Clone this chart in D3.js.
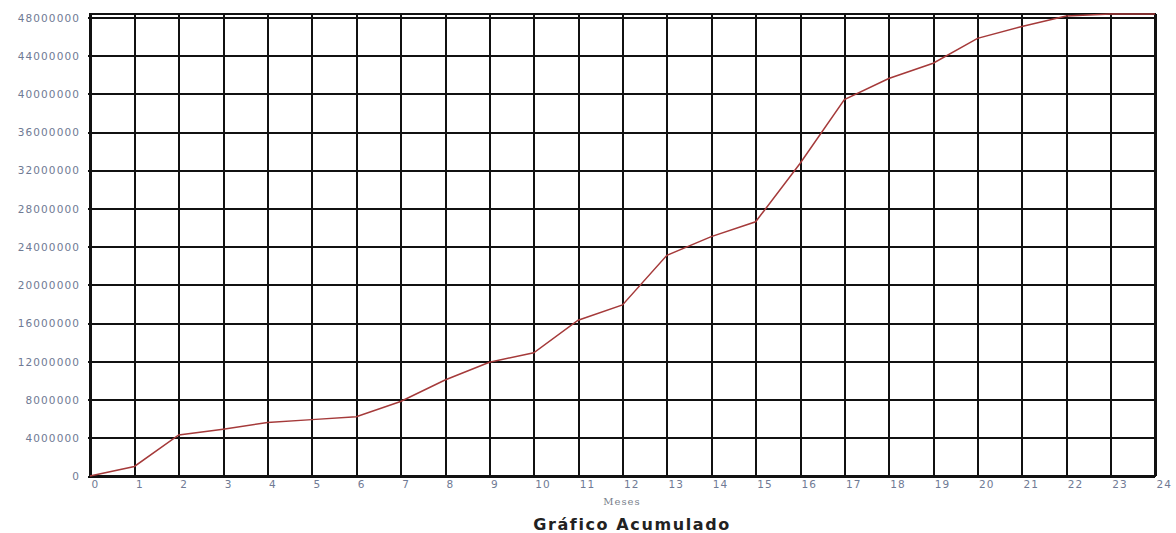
<!DOCTYPE html>
<html lang="es">
<head>
  <meta charset="utf-8">
  <title>Gráfico Acumulado</title>
  <script src="https://d3js.org/d3.v7.min.js"></script>
  <style>
    body {
      margin: 0;
      background: #fff;
    }
    .tick text {
      fill: #6f7a94;
      font-family: 'DejaVu Sans', sans-serif;
      font-size: 10.5px;
      letter-spacing: 1.1px;
    }
    .grid line {
      stroke: #111;
      stroke-width: 2px;
      shape-rendering: crispEdges;
    }
    .axisLabel {
      fill: #7a7f8c;
      font-family: 'DejaVu Serif', serif;
      font-size: 10px;
      letter-spacing: 1px;
    }
    .title {
      fill: #222;
      font-family: 'DejaVu Sans', sans-serif;
      font-weight: bold;
      font-size: 16px;
      letter-spacing: 1.6px;
    }
  </style>
</head>
<body>
  <div id="chart"></div>

  <script>

    // months 0..24 and accumulated value per month
    var meses = d3.range(0, 25);
    var acumulado = [0, 1000000, 4300000, 4900000, 5600000, 5900000, 6200000, 7800000, 10050000,
                     11900000, 12900000, 16300000, 17900000, 23100000, 25050000, 26600000, 32700000,
                     39400000, 41600000, 43200000, 45800000, 47050000, 48150000, 48350000, 48350000];
    var yTicks = [0, 4000000, 8000000, 12000000, 16000000, 20000000, 24000000,
                  28000000, 32000000, 36000000, 40000000, 44000000, 48000000];

    var width = 1176, height = 533;
    var margin = { top: 14, right: 21, bottom: 57, left: 90 };
    var w = width - margin.left - margin.right;
    var h = height - margin.top - margin.bottom;

    var data = meses.map(function(m, i) { return { mes: m, valor: acumulado[i] }; });

    var svg = d3.select('#chart')
                .append('svg')
                .attr('width', width)
                .attr('height', height);

    var g = svg.append('g')
               .attr('transform', 'translate(' + margin.left + ',' + margin.top + ')');

    var xScale = d3.scaleLinear()
                   .domain([0, 24])
                   .range([0, w]);

    var yScale = d3.scaleLinear()
                   .domain([0, d3.max(acumulado)])
                   .range([h, 0]);

    // vertical grid + x labels
    var xAxis = d3.axisBottom(xScale)
                  .tickValues(meses)
                  .tickSize(-h)
                  .tickFormat(d3.format('d'));

    g.append('g')
     .attr('class', 'grid')
     .attr('transform', 'translate(0,' + h + ')')
     .call(xAxis)
     .call(function(s) { s.select('.domain').remove(); })
     .selectAll('text')
     .attr('text-anchor', 'start')
     .attr('x', 1)
     .attr('y', 5);

    // horizontal grid + y labels
    var yAxis = d3.axisLeft(yScale)
                  .tickValues(yTicks)
                  .tickSize(-w - 2)
                  .tickPadding(8)
                  .tickFormat(d3.format('d'));

    g.append('g')
     .attr('class', 'grid')
     .attr('transform', 'translate(-2,0)')
     .call(yAxis)
     .call(function(s) { s.select('.domain').remove(); })
     .selectAll('text')
     .attr('dy', '0.35em');

    // frame
    g.append('rect')
     .attr('x', 0)
     .attr('y', 0)
     .attr('width', w)
     .attr('height', h)
     .attr('fill', 'none')
     .attr('stroke', '#111')
     .attr('stroke-width', 2)
     .attr('shape-rendering', 'crispEdges');

    var line = d3.line()
                 .x(function(d) { return xScale(d.mes); })
                 .y(function(d) { return yScale(d.valor); });

    g.append('path')
     .datum(data)
     .attr('fill', 'none')
     .attr('stroke', '#a53a3a')
     .attr('stroke-width', 1.5)
     .attr('d', line);

    svg.append('text')
       .attr('class', 'axisLabel')
       .attr('x', 622)
       .attr('y', 505)
       .attr('text-anchor', 'middle')
       .text('Meses');

    svg.append('text')
       .attr('class', 'title')
       .attr('x', 632)
       .attr('y', 530)
       .attr('text-anchor', 'middle')
       .text('Gráfico Acumulado');

  </script>
</body>
</html>
